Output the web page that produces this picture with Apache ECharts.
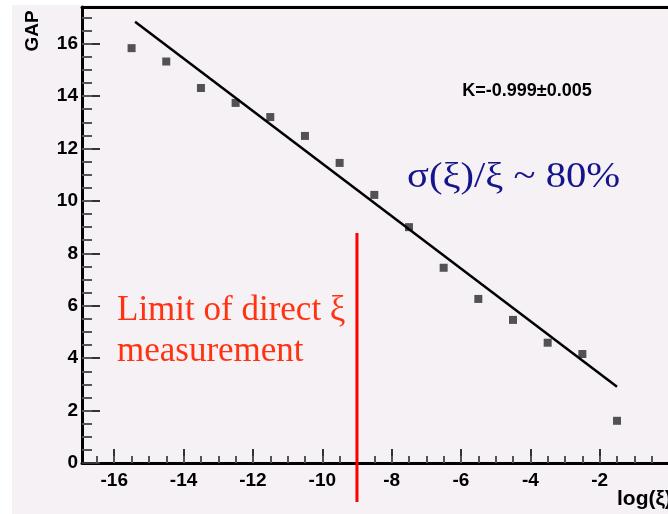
<!DOCTYPE html>
<html>
<head>
<meta charset="utf-8">
<script src="https://cdn.jsdelivr.net/npm/echarts@6/dist/echarts.min.js"></script>
<style>
body{margin:0;background:#fff;}
#main{position:absolute;left:12px;top:5px;width:656px;height:509px;}
</style>
</head>
<body>
<div id="main"></div>
<script>
// measured points
var logXi = [-15.5,-14.5,-13.5,-12.5,-11.5,-10.5,-9.5,-8.5,-7.5,-6.5,-5.5,-4.5,-3.5,-2.5,-1.5];
var gap = [15.83,15.32,14.31,13.74,13.2,12.48,11.45,10.23,9.0,7.45,6.26,5.46,4.59,4.16,1.61];
// linear fit
var fitX = [-15.4,-1.5];
var fitY = [16.84,2.91];
// limit of direct xi measurement
var limitX = [-9,-9];
var limitY = [8.78,-1.49];
var xTickLabels = [-16,-14,-12,-10,-8,-6,-4,-2];
var yTickLabels = [0,2,4,6,8,10,12,14,16];

var xMinor = [], yMinor = [];
for (var i = -16.5; i < 0; i += 0.5) xMinor.push(i);
for (var j = 0.5; j < 17.4; j += 0.5) yMinor.push(j);

function zip(a, b) {
	var out = [];
	for (var k = 0; k < a.length; k++) out.push([a[k], b[k]]);
	return out;
}

var labelFont = {color:'#000', fontWeight:'bold', fontSize:19, fontFamily:'Liberation Sans'};
var xMin = -16.93, xMax = -0.03, yMin = 0, yMax = 17.4;

var myChart = echarts.init(document.getElementById('main'));
var option = {
	animation:false,
	backgroundColor:'#f5f1f5',
	grid:{left:70, right:0, top:2, bottom:51},
	xAxis:[{
		type:'value', min:xMin, max:xMax, position:'bottom',
		axisLine:{onZero:false, lineStyle:{color:'#000', width:3}},
		axisTick:{inside:true, length:14, customValues:xTickLabels, lineStyle:{color:'#333', width:2}},
		axisLabel:Object.assign({customValues:xTickLabels, margin:8}, labelFont),
		splitLine:{show:false}
	},{
		type:'value', min:xMin, max:xMax, position:'bottom',
		axisLine:{show:false, onZero:false},
		axisTick:{inside:true, length:7, customValues:xMinor, lineStyle:{color:'#555', width:2}},
		axisLabel:{show:false},
		splitLine:{show:false}
	},{
		type:'value', min:xMin, max:xMax, position:'top',
		axisLine:{onZero:false, lineStyle:{color:'#000', width:3}},
		axisTick:{show:false},
		axisLabel:{show:false},
		splitLine:{show:false}
	}],
	yAxis:[{
		type:'value', min:yMin, max:yMax, position:'left',
		axisLine:{onZero:false, lineStyle:{color:'#000', width:3}},
		axisTick:{inside:true, length:18, customValues:yTickLabels, lineStyle:{color:'#333', width:2}},
		axisLabel:Object.assign({customValues:yTickLabels, margin:4}, labelFont),
		splitLine:{show:false}
	},{
		type:'value', min:yMin, max:yMax, position:'left',
		axisLine:{show:false, onZero:false},
		axisTick:{inside:true, length:10, customValues:yMinor, lineStyle:{color:'#555', width:2}},
		axisLabel:{show:false},
		splitLine:{show:false}
	}],
	series:[{
		type:'scatter',
		data:zip(logXi, gap),
		symbol:'rect',
		symbolSize:8,
		itemStyle:{color:'#2a2a2a'}
	},{
		type:'line',
		data:zip(fitX, fitY),
		showSymbol:false,
		lineStyle:{color:'#000', width:2.5}
	},{
		type:'line',
		data:zip(limitX, limitY),
		showSymbol:false,
		clip:false,
		lineStyle:{color:'#ff0000', width:3}
	}],
	graphic:[{
		type:'text', x:21, y:26, rotation:Math.PI/2,
		style:{text:'GAP', font:'bold 19px "Liberation Sans"', fill:'#000', align:'center', verticalAlign:'middle'}
	},{
		type:'text', x:515, y:86,
		style:{text:'K=-0.999\u00b10.005', font:'bold 18px "Liberation Sans"', fill:'#000', align:'center', verticalAlign:'middle'}
	},{
		type:'text', x:395, y:173, scaleX:1.16,
		style:{text:'\u03c3(\u03be)/\u03be ~ 80%', font:'35px "Liberation Serif"', fill:'#14148c', align:'left', verticalAlign:'middle'}
	},{
		type:'text', x:105, y:306,
		style:{text:'Limit of direct \u03be', font:'35px "Liberation Serif"', fill:'#ff3311', align:'left', verticalAlign:'middle'}
	},{
		type:'text', x:105, y:347,
		style:{text:'measurement', font:'35px "Liberation Serif"', fill:'#ff3311', align:'left', verticalAlign:'middle'}
	},{
		type:'text', x:605, y:494,
		style:{text:'log(\u03be)', font:'bold 21px "Liberation Sans"', fill:'#000', align:'left', verticalAlign:'middle'}
	}]
};
myChart.setOption(option, true);
</script>
</body>
</html>
